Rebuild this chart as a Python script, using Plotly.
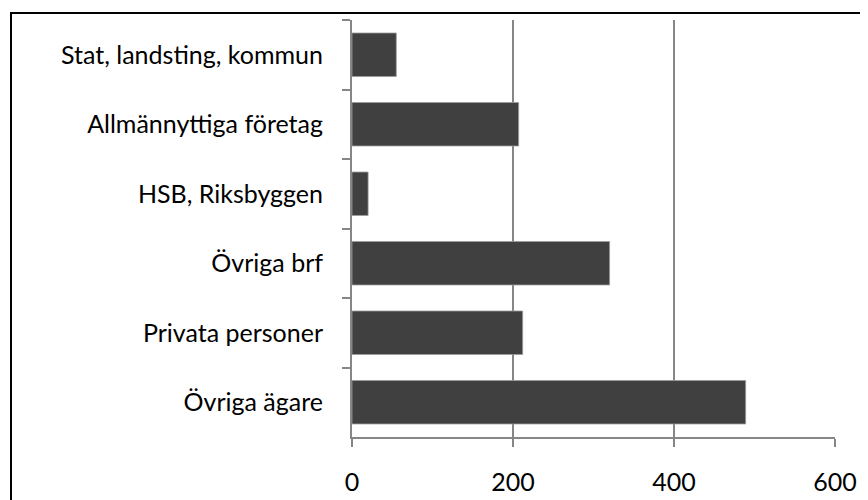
import plotly.graph_objects as go

categories = ["Stat, landsting, kommun", "Allmännyttiga företag", "HSB, Riksbyggen",
              "Övriga brf", "Privata personer", "Övriga ägare"]
values = [55, 207, 20, 320, 212, 489]
x_ticks = [0, 200, 400, 600]

axis_grey = "#868686"
font = dict(family="Lato, Open Sans, sans-serif", size=25, color="#000000")

# page body has an 8px margin: figure coordinates = screen - 8
W, H = 860, 492
L, R, T, B = 344, 33, 12, 63
pw, ph = W - L - R, H - T - B

fig = go.Figure(go.Bar(
    x=values, y=categories, orientation="h",
    marker=dict(color="#404040", line=dict(color="#9a9a9a", width=0.8)),
    width=0.625,
))

fig.update_layout(
    width=W, height=H,
    margin=dict(l=L, r=R, t=T, b=B, autoexpand=False),
    paper_bgcolor="white", plot_bgcolor="white",
    showlegend=False, font=font,
    shapes=[dict(type="rect", xref="paper", yref="paper",
                 x0=(3 - L) / pw, x1=(W + 20 - L) / pw,
                 y0=-(B + 20) / ph, y1=1 + (T - 5) / ph,
                 line=dict(color="black", width=2), layer="above")],
)
fig.update_xaxes(
    range=[0, 600], tickvals=x_ticks, ticktext=[str(v) for v in x_ticks],
    showgrid=True, gridcolor=axis_grey, gridwidth=2,
    showline=True, linecolor=axis_grey, linewidth=2,
    ticks="outside", ticklen=8, tickcolor=axis_grey, tickwidth=2,
    ticklabelstandoff=14, zeroline=False, tickfont=font, automargin=False,
)
fig.update_yaxes(
    categoryorder="array", categoryarray=categories, autorange="reversed",
    showline=True, linecolor=axis_grey, linewidth=2,
    ticks="outside", ticklen=8, tickcolor=axis_grey, tickwidth=2,
    tickson="boundaries", showgrid=False, ticklabelstandoff=22, tickfont=font,
    automargin=False,
)

fig.write_html("out.html")
